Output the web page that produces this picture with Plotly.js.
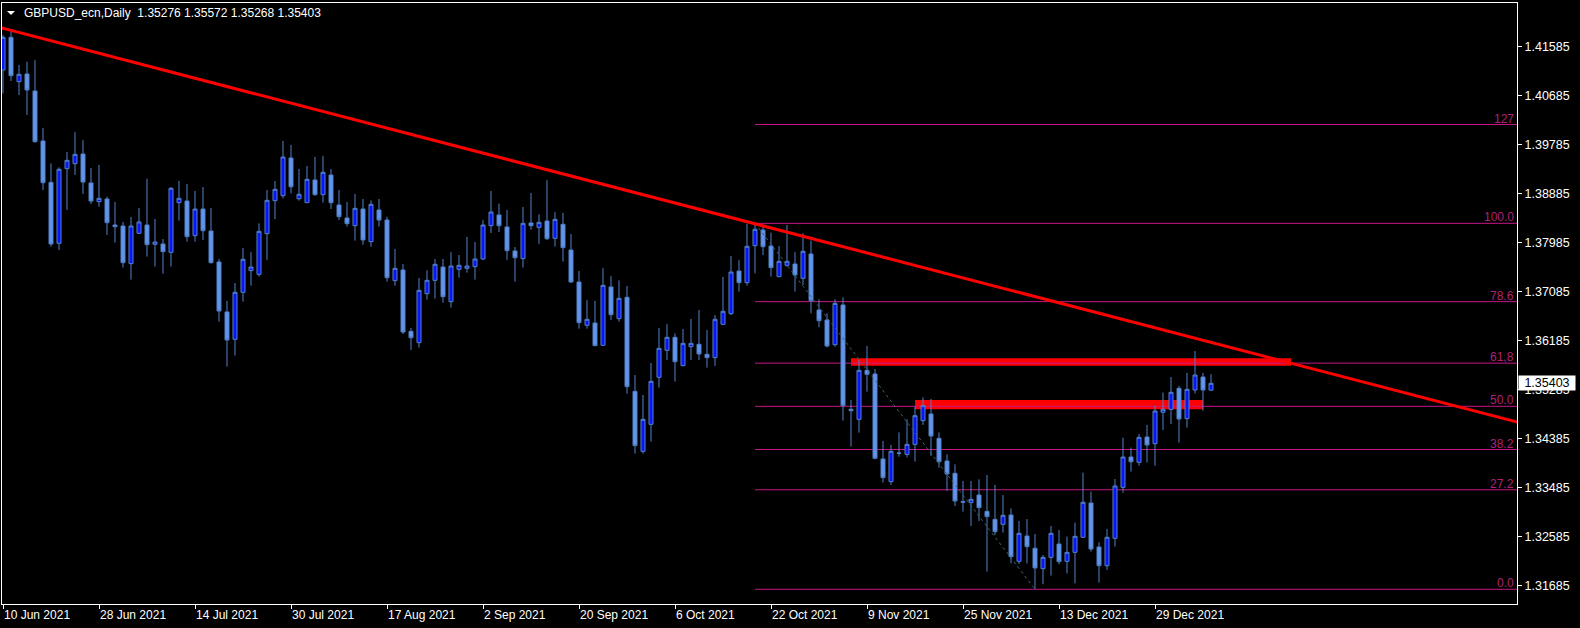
<!DOCTYPE html>
<html>
<head>
<meta charset="utf-8">
<script src="https://cdn.plot.ly/plotly-3.0.1.min.js"></script>
<style>html,body{margin:0;padding:0;background:#000;}#chart{width:1580px;height:628px;}</style>
</head>
<body>
<div id="chart"></div>
<script>
// ---- data (daily GBPUSD bars, index 0 = 10 Jun 2021) ----
const symbol = "GBPUSD_ecn";
const period = "Daily";
const openP = [1.41157,1.41757,1.40943,1.41084,1.40771,1.39853,1.39094,1.37974,1.39345,1.39437,
1.39614,1.39082,1.38739,1.38788,1.38310,1.38292,1.37600,1.38157,1.38310,1.37955,
1.37961,1.37809,1.38721,1.38751,1.38115,1.38604,1.38200,1.37631,1.36713,1.36211,
1.37074,1.37472,1.37404,1.38151,1.38757,1.38849,1.39541,1.38794,1.38720,1.39137,
1.38867,1.39229,1.38678,1.38439,1.38298,1.38604,1.38004,1.38586,1.38402,1.37288,
1.37484,1.36357,1.36149,1.37049,1.37294,1.37539,1.36902,1.37496,1.37514,1.37545,
1.37686,1.38298,1.38494,1.38274,1.37833,1.37692,1.38347,1.38267,1.38384,1.38065,
1.38323,1.37851,1.37263,1.36468,1.36510,1.36100,1.37172,1.36590,1.36982,1.35255,
1.34153,1.34649,1.35513,1.36008,1.36247,1.35727,1.36076,1.36119,1.35935,1.35874,
1.36486,1.36682,1.37465,1.37251,1.37931,1.38218,1.37924,1.37361,1.37570,1.37594,
1.37331,1.37778,1.36749,1.36565,1.36112,1.36841,1.34925,1.34741,1.35641,1.35574,
1.34013,1.33596,1.34117,1.34098,1.34282,1.34717,1.34839,1.34392,1.33976,1.33749,
1.33217,1.33211,1.33351,1.33051,1.32904,1.32813,1.32984,1.32133,1.32598,1.32372,
1.31998,1.32206,1.32451,1.32133,1.32298,1.32574,1.33204,1.32396,1.32053,1.32555,
1.33492,1.34049,1.33951,1.34416,1.34294,1.34870,1.34925,1.35310,1.34753,1.35280,
1.35518,1.35276];
const highP = [1.41800,1.41861,1.41249,1.41310,1.41341,1.40092,1.39443,1.39370,1.39651,1.40019,
1.39872,1.39357,1.39412,1.38831,1.38733,1.38366,1.38457,1.38623,1.39160,1.38421,
1.38053,1.39008,1.39119,1.39063,1.38935,1.39008,1.38623,1.37686,1.36915,1.37245,
1.37888,1.37815,1.38341,1.38953,1.39118,1.39853,1.39780,1.39339,1.39394,1.39560,
1.39580,1.39339,1.38953,1.38733,1.38880,1.38788,1.38763,1.38788,1.38463,1.37870,
1.37594,1.36419,1.37337,1.37478,1.37686,1.37686,1.37814,1.37759,1.38090,1.37998,
1.38402,1.38935,1.38702,1.38586,1.37906,1.38641,1.38898,1.38506,1.39137,1.38549,
1.38531,1.38145,1.37466,1.36933,1.36915,1.37521,1.37374,1.37294,1.37190,1.35555,
1.35188,1.35776,1.36419,1.36492,1.36321,1.36400,1.36584,1.36749,1.36382,1.36657,
1.37355,1.37741,1.37668,1.38335,1.38341,1.38310,1.38169,1.37924,1.38310,1.37814,
1.38157,1.38023,1.36945,1.36688,1.36945,1.36982,1.35096,1.35831,1.36088,1.35666,
1.34343,1.34270,1.34502,1.34741,1.34974,1.35145,1.35115,1.34502,1.34098,1.33915,
1.33608,1.33608,1.33639,1.33719,1.33535,1.33351,1.33106,1.32874,1.32910,1.32635,
1.32249,1.32782,1.32708,1.32586,1.32843,1.33761,1.33412,1.32482,1.32727,1.33645,
1.34404,1.34221,1.34472,1.34637,1.34992,1.35231,1.35518,1.35353,1.35592,1.35996,
1.35592,1.35572];
const lowP = [1.40729,1.40955,1.40698,1.40331,1.39823,1.38953,1.37912,1.37851,1.38586,1.39229,
1.38880,1.38696,1.38647,1.38127,1.37986,1.37527,1.37306,1.38145,1.37729,1.37545,
1.37417,1.37545,1.38390,1.38004,1.38004,1.38035,1.37600,1.36535,1.35708,1.35911,
1.36902,1.37196,1.37362,1.37667,1.38420,1.38800,1.38892,1.38757,1.38720,1.38849,
1.38720,1.38604,1.38402,1.38280,1.38023,1.37949,1.37912,1.38280,1.37270,1.37196,
1.36308,1.36015,1.36058,1.36939,1.36957,1.36884,1.36792,1.37343,1.37435,1.37306,
1.37667,1.38163,1.38182,1.37667,1.37270,1.37527,1.38225,1.37961,1.38035,1.37912,
1.37637,1.37251,1.36406,1.36406,1.36088,1.36100,1.36566,1.36535,1.35213,1.34111,
1.34111,1.34331,1.35323,1.35831,1.35433,1.35715,1.35831,1.35831,1.35690,1.35721,
1.36480,1.36657,1.37086,1.37196,1.37423,1.37759,1.37361,1.37361,1.37545,1.37086,
1.37208,1.36688,1.36431,1.36063,1.36076,1.34717,1.34239,1.34496,1.35249,1.34006,
1.33578,1.33535,1.34055,1.34043,1.33964,1.34637,1.34068,1.33853,1.33425,1.33149,
1.33045,1.32782,1.32874,1.31943,1.32617,1.32660,1.32096,1.32084,1.32096,1.31625,
1.31711,1.31870,1.32078,1.31913,1.31729,1.32568,1.32310,1.31741,1.31974,1.32402,
1.33394,1.33780,1.33890,1.33947,1.33886,1.34545,1.34655,1.34312,1.34588,1.35218,
1.34900,1.35268];
const closeP = [1.41757,1.41053,1.41078,1.40790,1.39841,1.39088,1.37961,1.39333,1.39498,1.39608,
1.39100,1.38751,1.38800,1.38353,1.38280,1.37619,1.38292,1.38366,1.37949,1.37998,
1.37821,1.38984,1.38800,1.38096,1.38604,1.38206,1.37619,1.36731,1.36198,1.37074,
1.37680,1.37539,1.38194,1.38763,1.38965,1.39559,1.39012,1.38874,1.39149,1.38867,
1.39278,1.38720,1.38463,1.38335,1.38616,1.38035,1.38690,1.38402,1.37343,1.37514,
1.36345,1.36241,1.37110,1.37294,1.37588,1.36994,1.37557,1.37570,1.37557,1.37686,
1.38310,1.38549,1.38298,1.37839,1.37710,1.38341,1.38298,1.38359,1.38059,1.38414,
1.37894,1.37263,1.36517,1.36578,1.36094,1.37202,1.36663,1.36963,1.35341,1.34258,
1.34741,1.35439,1.36045,1.36247,1.35800,1.36137,1.36137,1.35941,1.35874,1.36578,
1.36725,1.37447,1.37251,1.37919,1.38231,1.37912,1.37527,1.37643,1.37643,1.37392,
1.37827,1.36921,1.36553,1.36088,1.36871,1.34992,1.34900,1.35641,1.35568,1.34025,
1.33670,1.34153,1.34120,1.34282,1.34808,1.34992,1.34435,1.33964,1.33737,1.33241,
1.33229,1.33272,1.33119,1.32954,1.32678,1.32978,1.32219,1.32647,1.32402,1.32011,
1.32206,1.32647,1.32127,1.32298,1.32592,1.33217,1.32359,1.32053,1.32574,1.33517,
1.34049,1.33963,1.34410,1.34270,1.34894,1.34925,1.35237,1.34747,1.35292,1.35555,
1.35280,1.35403];

// date tick labels (every 12 bars)
const tickIdx = [0,12,24,36,48,60,72,84,96,108,120,132,144];
const tickLabels = ["10 Jun 2021","28 Jun 2021","14 Jul 2021","30 Jul 2021","17 Aug 2021","2 Sep 2021",
  "20 Sep 2021","6 Oct 2021","22 Oct 2021","9 Nov 2021","25 Nov 2021","13 Dec 2021","29 Dec 2021"];
// price scale labels
const priceTicks = [1.41585,1.40685,1.39785,1.38885,1.37985,1.37085,1.36185,1.35285,1.34385,1.33485,1.32585,1.31685];

// trendline anchors (bar index, price)
const trendBars = [0, 94];
const trendPrices = [1.41923, 1.38332];
// fibonacci anchors
const fibBars = [94, 129];
const fibPrices = [1.38341, 1.31619];
const fibLevels = [0, 27.2, 38.2, 50.0, 61.8, 78.6, 100.0, 127];
const fibLabels = ["0.0","27.2","38.2","50.0","61,8","78.6","100.0","127"];
// rectangles (zones)
const zoneStart = [106, 114];
const zoneEnd = [161, 150];
const zoneTop = [1.35862, 1.35096];
const zoneBottom = [1.35726, 1.34925];

// ---- chart ----
const n = openP.length;
const idx = openP.map((_, i) => i);
const FONT = "Liberation Sans, Arial, sans-serif";
const XR = [-0.125, 189.25];
const YR = [1.313491, 1.423877];

const slope = (trendPrices[1]-trendPrices[0])/(trendBars[1]-trendBars[0]);
const tlX = [XR[0]-1, XR[1]+1];
const tlY = tlX.map(x => trendPrices[0] + slope*(x-trendBars[0]));

const traces = [
  {type:'scatter', mode:'lines', x:fibBars, y:fibPrices, line:{color:'#3c6464', width:1, dash:'dot'}, hoverinfo:'skip'},
  {type:'candlestick', x:idx, open:openP, high:highP, low:lowP, close:closeP,
   increasing:{line:{color:'#4f81c9', width:1}, fillcolor:'#0a14f5'},
   decreasing:{line:{color:'#4f81c9', width:1}, fillcolor:'#6495ed'},
   whiskerwidth:0, hoverinfo:'none'},
  {type:'scatter', mode:'lines', x:tlX, y:tlY, line:{color:'#ff0000', width:3}, hoverinfo:'skip'}
];

const shapes = [];
for (let k = 0; k < zoneStart.length; k++) {
  shapes.push({type:'rect', layer:'below', xref:'x', yref:'y', x0:zoneStart[k], x1:zoneEnd[k],
    y0:zoneBottom[k], y1:zoneTop[k], fillcolor:'#ff0000', line:{width:0}});
}
const fibRange = fibPrices[0]-fibPrices[1];
const annotations = [];
fibLevels.forEach((lv, k) => {
  const p = fibPrices[1] + lv/100*fibRange;
  shapes.push({type:'line', layer:'below', xref:'x', yref:'y', x0:fibBars[0], x1:XR[1]+1, y0:p, y1:p,
    line:{color:'#c71585', width:1}});
  annotations.push({xref:'paper', yref:'y', x:1, y:p, xanchor:'right', yanchor:'bottom', xshift:-1, yshift:-3,
    text:fibLabels[k], showarrow:false, font:{family:FONT, size:12, color:'#b0207a'}});
});

// header triangle (pixel positions converted to paper)
const px = v => (v-2)/1515, py = v => (604-v)/601;
shapes.push({type:'path', xref:'paper', yref:'paper', layer:'above',
  path:`M ${px(7)} ${py(11)} L ${px(15)} ${py(11)} L ${px(11)} ${py(15)} Z`, fillcolor:'#ffffff', line:{width:0}});

const last = n-1;
annotations.push({xref:'paper', yref:'paper', x:px(22), y:py(13), xanchor:'left', yanchor:'middle', showarrow:false,
  text:`${symbol},${period}\u00a0\u00a0${openP[last].toFixed(5)} ${highP[last].toFixed(5)} ${lowP[last].toFixed(5)} ${closeP[last].toFixed(5)}`,
  font:{family:FONT, size:12, color:'#ffffff'}});
annotations.push({xref:'paper', yref:'y', x:1, y:closeP[last], xanchor:'left', yanchor:'middle', xshift:1,
  showarrow:false, text:closeP[last].toFixed(5), bgcolor:'#ffffff', width:54, height:12, borderpad:1,
  font:{family:FONT, size:12.5, color:'#000000'}});

const layout = {
  width:1580, height:628,
  paper_bgcolor:'#000000', plot_bgcolor:'#000000',
  margin:{l:2, r:63, t:3, b:24},
  showlegend:false, boxgap:0.5, boxgroupgap:0,
  dragmode:false,
  xaxis:{range:XR, showgrid:false, zeroline:false, showline:true, linecolor:'#ffffff', linewidth:1, mirror:true,
    ticks:'outside', ticklen:4, tickcolor:'#ffffff', tickvals:tickIdx, ticktext:tickLabels,
    ticklabelposition:'outside right', tickfont:{family:FONT, size:12, color:'#ffffff'},
    rangeslider:{visible:false}, fixedrange:true},
  yaxis:{side:'right', range:YR, showgrid:false, zeroline:false, showline:true, linecolor:'#ffffff', linewidth:1, mirror:true,
    ticks:'outside', ticklen:4, tickcolor:'#ffffff', tickvals:priceTicks, ticktext:priceTicks.map(v=>v.toFixed(5)),
    tickfont:{family:FONT, size:12.5, color:'#ffffff'}, fixedrange:true},
  shapes:shapes, annotations:annotations
};

Plotly.newPlot('chart', traces, layout, {displayModeBar:false, staticPlot:true});
</script>
</body>
</html>
